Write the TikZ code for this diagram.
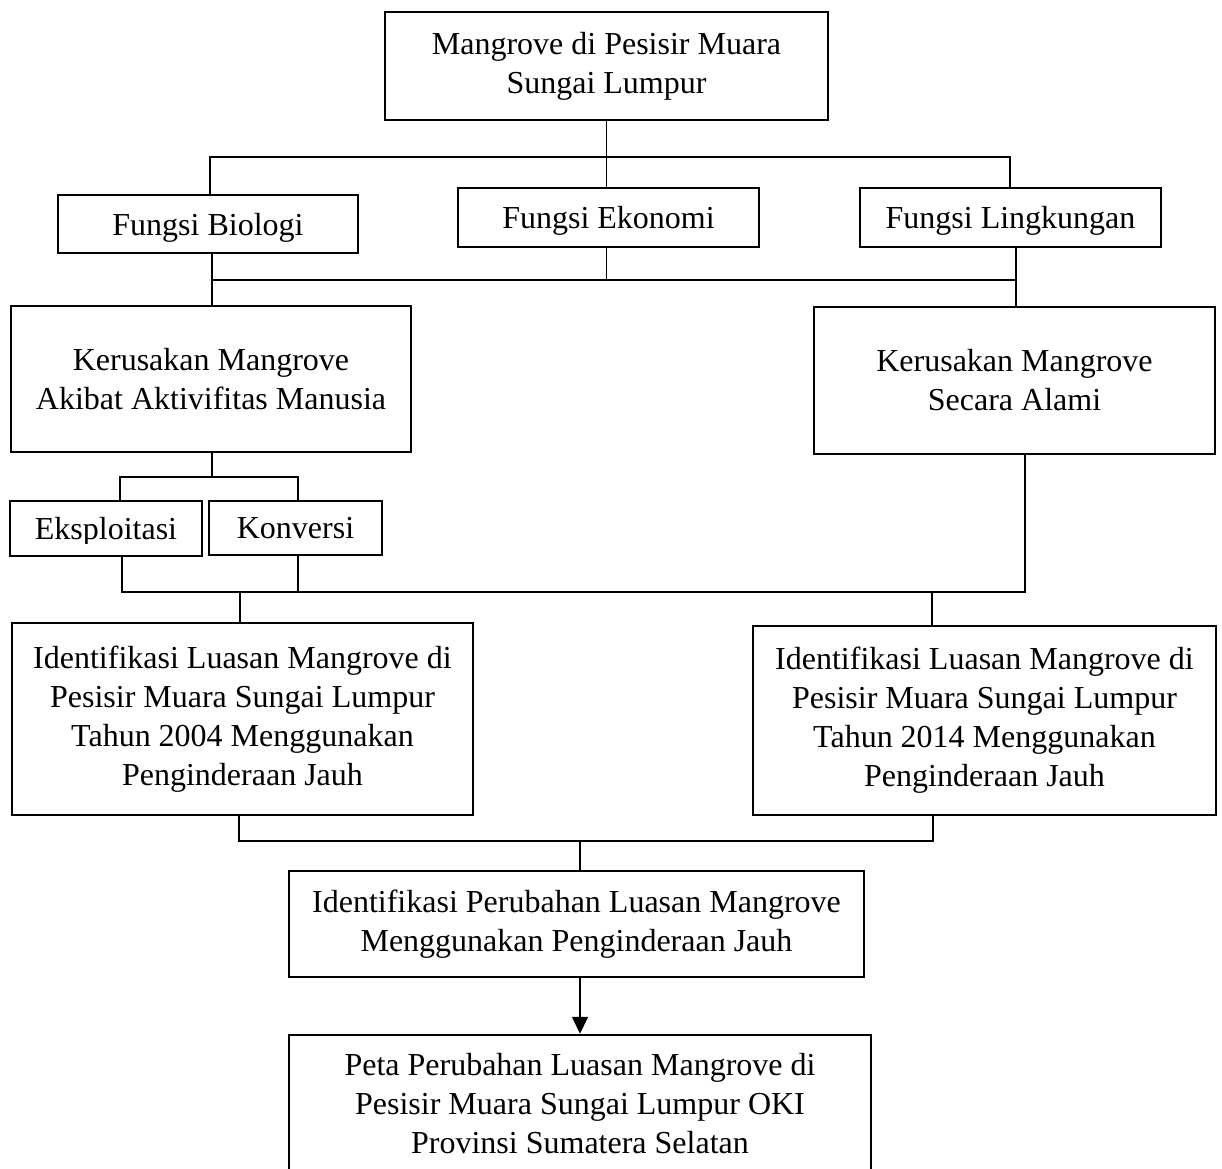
\documentclass[tikz,border=0pt]{standalone}
\usepackage{fontspec}
\setmainfont{Liberation Serif}
\usetikzlibrary{arrows.meta}
\begin{document}
\begin{tikzpicture}[x=1pt,y=-1pt,
  box/.style={draw, line width=2.5pt, inner sep=0pt, align=center,
    font=\fontsize{32}{39}\selectfont},
  onebox/.style={box, text depth=0pt},
  conn/.style={line width=1.7pt}]
\useasboundingbox (0,0) rectangle (1222,1168);
\clip (0,0) rectangle (1222,1168);

\node[box, minimum width=443, minimum height=108] (top) at (606.5,66)
  {Mangrove di Pesisir Muara\\Sungai Lumpur};
\node[onebox, minimum width=300, minimum height=58] (bio) at (208,224) {Fungsi Biologi};
\node[onebox, minimum width=301, minimum height=59] (eko) at (608.5,217.5) {Fungsi Ekonomi};
\node[onebox, minimum width=301, minimum height=59] (ling) at (1010.5,217.5) {Fungsi Lingkungan};
\node[box, minimum width=400, minimum height=146] (kman) at (211,379)
  {Kerusakan Mangrove\\Akibat Aktivifitas Manusia};
\node[box, minimum width=401, minimum height=147] (kalam) at (1014.5,380.5)
  {Kerusakan Mangrove\\Secara Alami};
\node[onebox, minimum width=192, minimum height=55] (eks) at (106,528.5) {Eksploitasi};
\node[onebox, minimum width=173, minimum height=54] (konv) at (295.5,528) {Konversi};
\node[box, minimum width=461, minimum height=192] (id1) at (242.5,719)
  {Identifikasi Luasan Mangrove di\\Pesisir Muara Sungai Lumpur\\Tahun 2004 Menggunakan\\Penginderaan Jauh};
\node[box, minimum width=463, minimum height=189] (id2) at (984.5,720.5)
  {Identifikasi Luasan Mangrove di\\Pesisir Muara Sungai Lumpur\\Tahun 2014 Menggunakan\\Penginderaan Jauh};
\node[box, minimum width=575, minimum height=106] (perub) at (576.5,924)
  {Identifikasi Perubahan Luasan Mangrove\\Menggunakan Penginderaan Jauh};
\node[box, minimum width=582, minimum height=137] (peta) at (580,1103.5)
  {Peta Perubahan Luasan Mangrove di\\Pesisir Muara Sungai Lumpur OKI\\Provinsi Sumatera Selatan};

% clipped descenders of Eksploitasi
\fill[white] (12,543.5) rectangle (200,554.6);

% connectors
\draw[conn] (top.south) -- (top.south |- eko.north);
\coordinate (a1) at (210,157);
\coordinate (a2) at (1010,157);
\draw[conn] (a1 |- bio.north) -- (a1) -- (a2) -- (a2 |- ling.north);

\coordinate (b1) at (212,280);
\coordinate (b2) at (1016,280);
\draw[conn] (b1 |- bio.south) -- (b1 |- kman.north);
\draw[conn] (b1) -- (b2);
\draw[conn] (top.south |- eko.south) -- (top.south |- b1);
\draw[conn] (b2 |- ling.south) -- (b2 |- kalam.north);

\coordinate (c0) at (212,477);
\coordinate (c1) at (120,477);
\coordinate (c2) at (298,477);
\draw[conn] (c0 |- kman.south) -- (c0);
\draw[conn] (c1 |- eks.north) -- (c1) -- (c2) -- (c2 |- konv.north);

\coordinate (d1) at (122,592);
\coordinate (d2) at (1025,592);
\coordinate (d3) at (298,592);
\coordinate (d4) at (240,592);
\coordinate (d5) at (932,592);
\draw[conn] (d1 |- eks.south) -- (d1) -- (d2) -- (d2 |- kalam.south);
\draw[conn] (d3 |- konv.south) -- (d3);
\draw[conn] (d4) -- (d4 |- id1.north);
\draw[conn] (d5) -- (d5 |- id2.north);

\coordinate (e1) at (239,841);
\coordinate (e2) at (933,841);
\coordinate (e3) at (580,841);
\draw[conn] (e1 |- id1.south) -- (e1) -- (e2) -- (e2 |- id2.south);
\draw[conn] (e3) -- (e3 |- perub.north);
\draw[conn, -{Triangle[width=16pt,length=17pt]}] (e3 |- perub.south) -- (e3 |- peta.north);
\end{tikzpicture}
\end{document}
